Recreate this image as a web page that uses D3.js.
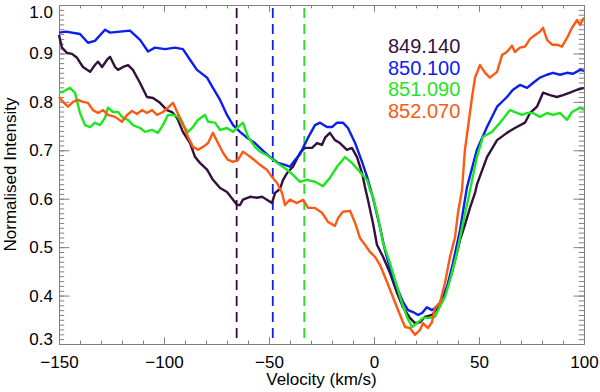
<!DOCTYPE html>
<html>
<head>
<meta charset="utf-8">
<script src="https://cdn.jsdelivr.net/npm/d3@7"></script>
<style>
  body { margin: 0; background: #ffffff; }
  .chart text { font-family: "Liberation Sans", Arial, Helvetica, sans-serif; }
</style>
</head>
<body>
<div class="chart"></div>
<script>
// line profiles: [velocity km/s, normalised intensity]
var profile849 = [[-150,0.938],[-148.6,0.912],[-146.2,0.901],[-143.8,0.899],[-141.4,0.891],[-138.6,0.872],[-135.2,0.862],[-132.9,0.876],[-131.4,0.883],[-129.5,0.872],[-127.1,0.887],[-125.7,0.893],[-123.3,0.872],[-121.9,0.866],[-119.5,0.872],[-117.1,0.876],[-114.8,0.866],[-111.4,0.839],[-108.1,0.810],[-105.2,0.808],[-101.9,0.798],[-98.6,0.783],[-96.2,0.779],[-93.8,0.767],[-91,0.738],[-87.6,0.715],[-85.2,0.686],[-82.9,0.674],[-79.5,0.660],[-76.7,0.639],[-73.3,0.622],[-70,0.614],[-67.1,0.598],[-65.2,0.587],[-63.8,0.587],[-62.4,0.598],[-59,0.604],[-55.7,0.602],[-53.3,0.604],[-51,0.598],[-48.6,0.591],[-47.1,0.612],[-44.8,0.620],[-43.3,0.639],[-41.4,0.653],[-38.6,0.666],[-35.2,0.695],[-32.9,0.705],[-29.5,0.705],[-27.1,0.715],[-24.8,0.711],[-23.3,0.726],[-21,0.736],[-18.6,0.721],[-16.2,0.715],[-12.9,0.701],[-10.5,0.705],[-8.1,0.686],[-5.7,0.653],[-4.3,0.624],[-2.9,0.598],[-0.5,0.550],[1.4,0.505],[4.3,0.480],[7.6,0.447],[11,0.405],[13.8,0.376],[17.1,0.354],[19.5,0.343],[21.9,0.345],[24.3,0.356],[27.6,0.360],[30.5,0.374],[33.8,0.405],[37.1,0.447],[41,0.515],[43.3,0.546],[45.7,0.581],[48.1,0.612],[49,0.629],[53.8,0.686],[58.6,0.721],[63.3,0.736],[67.1,0.746],[71.9,0.757],[74.3,0.777],[77.6,0.790],[80.5,0.819],[83.8,0.814],[87.1,0.810],[90,0.814],[93.3,0.819],[96.7,0.825],[100,0.829]];

var profile850 = [[-150,0.943],[-146.7,0.945],[-140,0.940],[-136.2,0.922],[-132.9,0.926],[-128.1,0.949],[-125.7,0.943],[-123.3,0.944],[-116.2,0.947],[-111.4,0.928],[-107.6,0.904],[-104.3,0.912],[-99.5,0.909],[-94.8,0.912],[-91,0.909],[-87.6,0.887],[-84.3,0.866],[-79.5,0.850],[-76.7,0.829],[-73.3,0.804],[-70,0.773],[-67.1,0.752],[-63.8,0.738],[-60.5,0.726],[-56.7,0.715],[-53.3,0.701],[-49.5,0.686],[-45.7,0.674],[-42.4,0.670],[-40,0.666],[-37.6,0.680],[-35.2,0.692],[-33.8,0.705],[-31.4,0.726],[-28.1,0.752],[-25.7,0.757],[-22.4,0.748],[-20,0.748],[-17.6,0.757],[-14.8,0.757],[-12.4,0.746],[-9,0.715],[-5.7,0.676],[-3.3,0.645],[-0.5,0.602],[2.9,0.540],[5.2,0.494],[7.6,0.457],[11,0.416],[13.8,0.387],[16.2,0.370],[18.6,0.366],[21,0.360],[22.9,0.364],[25.2,0.376],[27.6,0.370],[29,0.374],[31.4,0.385],[34.8,0.418],[37.6,0.467],[41,0.536],[43.3,0.598],[44.3,0.624],[49,0.701],[53.8,0.748],[58.6,0.790],[63.3,0.810],[66.2,0.825],[69.5,0.835],[72.9,0.829],[75.7,0.839],[79,0.850],[82.4,0.856],[85.2,0.860],[88.6,0.856],[91.9,0.860],[94.8,0.858],[98.1,0.866],[100,0.864]];

var profile851 = [[-150,0.819],[-148.1,0.821],[-144.8,0.829],[-142.4,0.819],[-140,0.777],[-137.6,0.752],[-135.2,0.748],[-132.9,0.757],[-130.5,0.752],[-128.1,0.767],[-126.7,0.788],[-124.3,0.779],[-121.9,0.779],[-119.5,0.767],[-117.1,0.763],[-114.8,0.752],[-111.4,0.746],[-109,0.738],[-105.7,0.742],[-102.9,0.736],[-100.5,0.752],[-98.1,0.773],[-95.7,0.773],[-93.3,0.769],[-91,0.752],[-88.6,0.738],[-86.2,0.748],[-83.8,0.763],[-80.5,0.773],[-79,0.759],[-75.7,0.757],[-73.3,0.742],[-70,0.746],[-67.1,0.738],[-64.8,0.748],[-62.4,0.757],[-60,0.728],[-56.7,0.707],[-54.3,0.697],[-51,0.690],[-46.2,0.674],[-41.4,0.660],[-38.6,0.649],[-35.2,0.635],[-31.9,0.639],[-28.1,0.635],[-24.3,0.626],[-21,0.643],[-17.6,0.666],[-13.8,0.686],[-10.5,0.674],[-6.7,0.655],[-3.3,0.639],[-1.9,0.618],[-0.5,0.604],[1.9,0.562],[4.3,0.509],[7.6,0.467],[11,0.418],[13.3,0.385],[15.7,0.356],[18.1,0.335],[20.5,0.343],[23.3,0.354],[26.7,0.354],[29,0.356],[30.5,0.370],[33.8,0.397],[36.2,0.432],[39.5,0.488],[42.4,0.550],[44.8,0.598],[49,0.686],[51.9,0.728],[56.2,0.738],[60,0.757],[64.8,0.783],[67.1,0.779],[70.5,0.773],[72.9,0.777],[75.7,0.777],[79,0.769],[82.4,0.777],[85.2,0.773],[88.6,0.777],[91.9,0.763],[94.3,0.779],[98.1,0.788],[100,0.783]];

var profile852 = [[-150,0.810],[-148.1,0.800],[-145.7,0.790],[-143.3,0.800],[-141,0.804],[-138.6,0.800],[-136.2,0.798],[-133.8,0.783],[-131.4,0.777],[-129,0.783],[-126.7,0.773],[-123.3,0.769],[-120,0.759],[-117.6,0.773],[-115.2,0.781],[-112.9,0.775],[-110.5,0.783],[-108.1,0.777],[-105.7,0.783],[-103.3,0.773],[-100.5,0.779],[-98.1,0.788],[-95.7,0.798],[-93.3,0.775],[-91,0.755],[-88.6,0.728],[-86.2,0.707],[-83.8,0.701],[-81.4,0.707],[-79,0.715],[-76.7,0.736],[-74.3,0.715],[-71.9,0.695],[-69.5,0.680],[-67.1,0.676],[-64.8,0.680],[-62.4,0.697],[-60,0.690],[-57.6,0.682],[-54.3,0.670],[-51,0.660],[-48.6,0.645],[-46.2,0.633],[-43.8,0.612],[-42.4,0.587],[-40,0.598],[-36.7,0.591],[-33.8,0.598],[-31.4,0.581],[-28.1,0.581],[-24.8,0.571],[-21.9,0.552],[-18.6,0.544],[-17.1,0.560],[-14.8,0.573],[-11.4,0.575],[-9,0.550],[-6.7,0.519],[-4.3,0.505],[-1.9,0.490],[0.5,0.480],[2.9,0.463],[6.2,0.428],[9,0.397],[12.4,0.360],[14.8,0.335],[17.1,0.333],[19.5,0.319],[21.9,0.329],[23.3,0.343],[25.7,0.333],[27.6,0.345],[29,0.374],[31.4,0.385],[33.8,0.426],[36.2,0.480],[38.6,0.521],[40,0.571],[41.9,0.618],[43.3,0.701],[46.7,0.810],[48.1,0.850],[50.5,0.876],[52.9,0.860],[55.2,0.850],[58.6,0.862],[61,0.897],[63.3,0.903],[65.7,0.916],[67.1,0.903],[69.5,0.912],[71.9,0.914],[74.3,0.930],[76.7,0.938],[79,0.945],[80.5,0.953],[82.4,0.928],[84.8,0.918],[87.1,0.918],[89.5,0.914],[91.9,0.932],[94.3,0.953],[96.7,0.969],[98.1,0.959],[100,0.974]];

var lineNames = ["849.140", "850.100", "851.090", "852.070"];
var lineColors = ["#33103d", "#0a1ef0", "#1ee61e", "#fc5a12"];
// velocities of the dashed markers (849, 850, 851)
var markerVel = [-65.4, -48.2, -33.2];

var xTicks = [-150, -100, -50, 0, 50, 100];
var yTicks = [0.3, 0.4, 0.5, 0.6, 0.7, 0.8, 0.9, 1.0];

var svgWidth = 600;
var svgHeight = 392;
var margin = { top: 5, right: 16, bottom: 48, left: 59 };
var width = svgWidth - margin.left - margin.right;
var height = svgHeight - margin.top - margin.bottom;

var svg = d3.select(".chart")
  .append("svg")
  .attr("width", svgWidth)
  .attr("height", svgHeight);

var chart = svg.append("g")
  .attr("transform", "translate(" + margin.left + "," + margin.top + ")");

var xScale = d3.scaleLinear().domain([-150, 100]).range([0, width]);
var yScale = d3.scaleLinear().domain([0.3, 1.0]).range([height, 0]);

var axisColor = "#808080";
var xMinor = d3.range(-150, 101, 10);
var yMinor = d3.range(30, 101, 1).map(function(d) { return d / 100; });

// IDL style: inward ticks on all four sides
function drawAxis(axis, tx, ty, showLabels) {
  var g = chart.append("g")
    .attr("transform", "translate(" + tx + "," + ty + ")")
    .call(axis);
  g.select(".domain").attr("stroke", axisColor);
  g.selectAll(".tick line").attr("stroke", axisColor);
  g.attr("font-family", "Liberation Sans, Arial, sans-serif").attr("font-size", 17);
  g.selectAll("text").attr("fill", "#000");
  if (!showLabels) g.selectAll("text").remove();
  return g;
}

var noLabel = function() { return ""; };

drawAxis(d3.axisBottom(xScale).tickValues(xMinor).tickSize(-3.4).tickSizeOuter(0).tickFormat(noLabel), 0, height, false);
drawAxis(d3.axisTop(xScale).tickValues(xMinor).tickSize(-3.4).tickSizeOuter(0).tickFormat(noLabel), 0, 0, false);
drawAxis(d3.axisLeft(yScale).tickValues(yMinor).tickSize(-5.2).tickSizeOuter(0).tickFormat(noLabel), 0, 0, false);
drawAxis(d3.axisRight(yScale).tickValues(yMinor).tickSize(-5.2).tickSizeOuter(0).tickFormat(noLabel), width, 0, false);

drawAxis(d3.axisBottom(xScale).tickValues(xTicks).tickSize(-6.8).tickSizeOuter(0).tickPadding(12).tickFormat(d3.format("d")), 0, height, true);
drawAxis(d3.axisTop(xScale).tickValues(xTicks).tickSize(-6.8).tickSizeOuter(0), 0, 0, false);
var leftAxis = drawAxis(d3.axisLeft(yScale).tickValues(yTicks).tickSize(-10.5).tickSizeOuter(0).tickPadding(6).tickFormat(d3.format(".1f")), 0, 0, true);
drawAxis(d3.axisRight(yScale).tickValues(yTicks).tickSize(-10.5).tickSizeOuter(0), width, 0, false);

// end labels sit inside the frame as in the original
leftAxis.selectAll(".tick text")
  .attr("y", function(d) { return d >= 1.0 ? 7 : (d <= 0.3 ? -5 : 0); });

// dashed rest-velocity markers
chart.selectAll(".marker")
  .data(markerVel)
  .enter()
  .append("line")
  .attr("class", "marker")
  .attr("x1", function(d) { return xScale(d); })
  .attr("x2", function(d) { return xScale(d); })
  .attr("y1", yScale(0.994))
  .attr("y2", yScale(0.3))
  .attr("stroke", function(d, i) { return lineColors[i]; })
  .attr("stroke-width", 1.8)
  .attr("stroke-dasharray", "10,6");

var line = d3.line()
  .x(function(d) { return xScale(d[0]); })
  .y(function(d) { return yScale(d[1]); });

var profiles = [profile849, profile850, profile851, profile852];

chart.selectAll(".profile")
  .data(profiles)
  .enter()
  .append("path")
  .attr("class", "profile")
  .attr("d", line)
  .attr("fill", "none")
  .attr("stroke", function(d, i) { return lineColors[i]; })
  .attr("stroke-width", 2.4)
  .attr("stroke-linejoin", "round");

// legend
chart.selectAll(".legend")
  .data(lineNames)
  .enter()
  .append("text")
  .attr("class", "legend")
  .attr("x", 329)
  .attr("y", function(d, i) { return 48 + i * 21.5; })
  .style("font-size", "20px")
  .attr("fill", function(d, i) { return lineColors[i]; })
  .text(function(d) { return d; });

// axis titles
chart.append("text")
  .attr("x", width / 2)
  .attr("y", height + 41)
  .style("text-anchor", "middle")
  .style("font-size", "17px")
  .text("Velocity (km/s)");

chart.append("text")
  .attr("transform", "rotate(-90)")
  .attr("x", -height / 2)
  .attr("y", -43)
  .style("text-anchor", "middle")
  .style("font-size", "17px")
  .text("Normalised Intensity");
</script>
</body>
</html>
